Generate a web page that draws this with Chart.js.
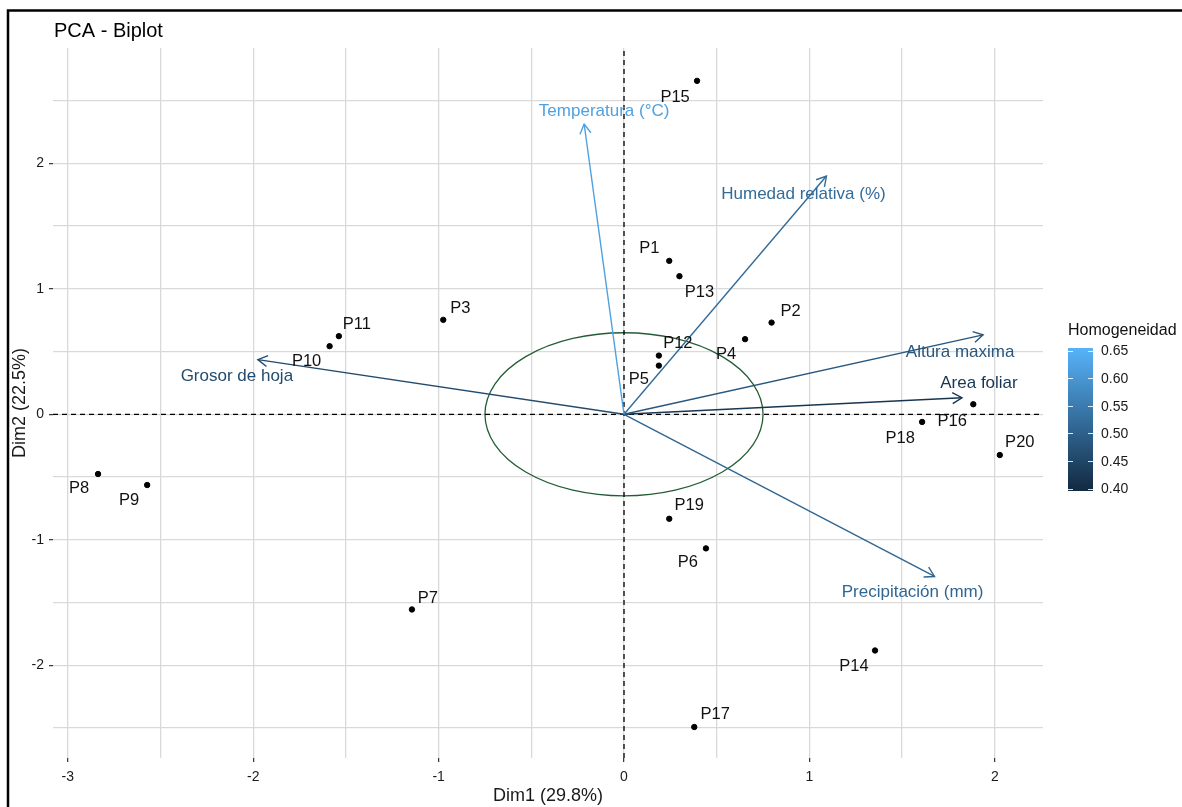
<!DOCTYPE html>
<html>
<head>
<meta charset="utf-8">
<script src="https://cdn.jsdelivr.net/npm/chart.js@4.4.1/dist/chart.umd.min.js"></script>
<style>
  html, body { margin: 0; padding: 0; background: #ffffff; }
  #wrap { width: 1182px; height: 807px; position: relative; }
</style>
</head>
<body>
<div id="wrap"><canvas id="biplot" width="1182" height="807"></canvas></div>
<script>
// ---- Individuals (scores on the first two dimensions) ----
const individuals = ['P1','P2','P3','P4','P5','P6','P7','P8','P9','P10',
                     'P11','P12','P13','P14','P15','P16','P17','P18','P19','P20'];
const dim1 = [0.244, 0.796, -0.975, 0.653, 0.188, 0.442, -1.144, -2.837, -2.572, -1.588,
              -1.538, 0.188, 0.299, 1.354, 0.394, 1.884, 0.379, 1.608, 0.244, 2.027];
const dim2 = [1.223, 0.731, 0.753, 0.599, 0.388, -1.069, -1.556, -0.476, -0.564, 0.543,
              0.623, 0.468, 1.101, -1.883, 2.658, 0.080, -2.493, -0.061, -0.833, -0.325];

// ---- Variables (loading arrows) ----
const variables = ['Temperatura (°C)', 'Humedad relativa (%)', 'Altura maxima',
                   'Area foliar', 'Grosor de hoja', 'Precipitación (mm)'];
const varDim1 = [-0.215, 1.092, 1.937, 1.823, -1.975, 1.675];
const varDim2 = [2.314, 1.899, 0.633, 0.132, 0.436, -1.293];
const homogeneidad = [0.62, 0.52, 0.48, 0.42, 0.46, 0.51];

// ---- Axes and colour legend ----
const xLimits = [-3.08, 2.26];
const yLimits = [-2.74, 2.92];
const legendTicks = [0.40, 0.45, 0.50, 0.55, 0.60, 0.65];
const circleRadius = [0.75, 0.65];

// ---- Label placement (pixel offsets from the mark) ----
const pointLabelOffset = {
  P1: [-20, -12], P2: [19, -11], P3: [17, -11], P4: [-19, 15], P5: [-20, 14],
  P6: [-18, 14], P7: [16, -11], P8: [-19, 14], P9: [-18, 15], P10: [-23, 15],
  P11: [18, -12], P12: [19, -12], P13: [20, 16], P14: [-21, 16], P15: [-22, 17],
  P16: [-21, 17], P17: [21, -13], P18: [-22, 17], P19: [20, -13], P20: [20, -13]
};
const arrowLabelOffset = [[20, -13], [-23, 18], [-23, 17], [17, -14], [-21, 17], [-22, 16]];

const FONT = '"Liberation Sans", Arial, sans-serif';
const lowColor = [19, 43, 67];
const highColor = [86, 177, 247];
function homColor(v) {
  const lo = legendTicks[0], hi = legendTicks[legendTicks.length - 1];
  const t = Math.max(0, Math.min(1, (v - lo) / (hi - lo)));
  const c = lowColor.map((l, i) => Math.round(l + (highColor[i] - l) * t));
  return 'rgb(' + c.join(',') + ')';
}
const isInt = v => typeof v === 'number' && Math.abs(v - Math.round(v)) < 1e-9;

// ---- Datasets ----
const datasets = [];
datasets.push({
  label: 'individuos',
  data: individuals.map((n, i) => ({ x: dim1[i], y: dim2[i] })),
  backgroundColor: '#000', borderColor: '#000', pointRadius: 2.7, pointHoverRadius: 2.7,
  showLine: false, order: 0
});
datasets.push({
  label: 'eje x0', data: [{ x: 0, y: yLimits[0] }, { x: 0, y: yLimits[1] }],
  showLine: true, borderColor: '#000', borderWidth: 1.3, borderDash: [5, 4], pointRadius: 0, order: 5
});
datasets.push({
  label: 'eje y0', data: [{ x: xLimits[0], y: 0 }, { x: xLimits[1], y: 0 }],
  showLine: true, borderColor: '#000', borderWidth: 1.3, borderDash: [5, 4], pointRadius: 0, order: 5
});
variables.forEach((v, i) => {
  datasets.push({
    label: v, data: [{ x: 0, y: 0 }, { x: varDim1[i], y: varDim2[i] }],
    showLine: true, borderColor: homColor(homogeneidad[i]), borderWidth: 1.4,
    pointRadius: 0, order: 2
  });
});

// ---- Plugins ----
const framePlugin = {
  id: 'frame',
  afterDraw(chart) {
    const ctx = chart.ctx;
    ctx.save();
    ctx.strokeStyle = '#000';
    ctx.lineWidth = 2.5;
    ctx.beginPath();
    ctx.moveTo(8, chart.height);
    ctx.lineTo(8, 10.5);
    ctx.lineTo(chart.width, 10.5);
    ctx.stroke();
    ctx.fillStyle = '#000';
    ctx.font = '20px ' + FONT;
    ctx.textAlign = 'left';
    ctx.textBaseline = 'alphabetic';
    ctx.fillText('PCA - Biplot', chart.chartArea.left + 1, 36.5);
    ctx.restore();
  }
};

const circlePlugin = {
  id: 'circle',
  beforeDatasetsDraw(chart) {
    const { x, y } = chart.scales;
    const ctx = chart.ctx;
    const cx = x.getPixelForValue(0), cy = y.getPixelForValue(0);
    const rx = Math.abs(x.getPixelForValue(circleRadius[0]) - cx);
    const ry = Math.abs(y.getPixelForValue(circleRadius[1]) - cy);
    ctx.save();
    ctx.strokeStyle = '#245d35';
    ctx.lineWidth = 1.3;
    ctx.beginPath();
    ctx.ellipse(cx, cy, rx, ry, 0, 0, Math.PI * 2);
    ctx.stroke();
    ctx.restore();
  }
};

const labelPlugin = {
  id: 'labels',
  afterDatasetsDraw(chart) {
    const { x, y } = chart.scales;
    const ctx = chart.ctx;
    ctx.save();
    // arrow heads and variable names
    variables.forEach((v, i) => {
      const col = homColor(homogeneidad[i]);
      const x0 = x.getPixelForValue(0), y0 = y.getPixelForValue(0);
      const x1 = x.getPixelForValue(varDim1[i]), y1 = y.getPixelForValue(varDim2[i]);
      const ang = Math.atan2(y1 - y0, x1 - x0);
      const len = 11, spread = Math.PI / 6;
      ctx.strokeStyle = col;
      ctx.lineWidth = 1.4;
      ctx.beginPath();
      ctx.moveTo(x1 - len * Math.cos(ang - spread), y1 - len * Math.sin(ang - spread));
      ctx.lineTo(x1, y1);
      ctx.lineTo(x1 - len * Math.cos(ang + spread), y1 - len * Math.sin(ang + spread));
      ctx.stroke();
      ctx.fillStyle = col;
      ctx.font = '17px ' + FONT;
      ctx.textAlign = 'center';
      ctx.textBaseline = 'middle';
      const off = arrowLabelOffset[i];
      ctx.fillText(v, x1 + off[0], y1 + off[1]);
    });
    // individual names
    ctx.fillStyle = '#111';
    ctx.font = '16.5px ' + FONT;
    ctx.textAlign = 'center';
    ctx.textBaseline = 'middle';
    individuals.forEach((n, i) => {
      const px = x.getPixelForValue(dim1[i]), py = y.getPixelForValue(dim2[i]);
      const off = pointLabelOffset[n];
      ctx.fillText(n, px + off[0], py + off[1]);
    });
    ctx.restore();
  }
};

const colorbarPlugin = {
  id: 'colorbar',
  afterDraw(chart) {
    const ctx = chart.ctx;
    const left = chart.chartArea.right + 25, width = 25;
    const vTop = 350.5, vBottom = 488.5;
    const lo = legendTicks[0], hi = legendTicks[legendTicks.length - 1];
    const pos = v => vBottom - (v - lo) / (hi - lo) * (vBottom - vTop);
    ctx.save();
    const g = ctx.createLinearGradient(0, vTop, 0, vBottom);
    g.addColorStop(0, homColor(hi));
    g.addColorStop(1, homColor(lo));
    ctx.fillStyle = g;
    ctx.fillRect(left, vTop - 2.5, width, vBottom - vTop + 5);
    ctx.strokeStyle = 'rgba(255,255,255,0.85)';
    ctx.lineWidth = 1;
    ctx.fillStyle = '#1a1a1a';
    ctx.font = '14px ' + FONT;
    ctx.textAlign = 'left';
    ctx.textBaseline = 'middle';
    legendTicks.forEach(t => {
      const py = Math.round(pos(t)) + 0.5;
      ctx.beginPath();
      ctx.moveTo(left, py); ctx.lineTo(left + 5, py);
      ctx.moveTo(left + width - 5, py); ctx.lineTo(left + width, py);
      ctx.stroke();
      ctx.fillText(t.toFixed(2), left + width + 8, pos(t) + 1);
    });
    ctx.fillStyle = '#111';
    ctx.font = '16px ' + FONT;
    ctx.fillText('Homogeneidad', left, 331);
    ctx.restore();
  }
};

const tickColor = c => (c.tick && isInt(c.tick.value)) ? '#333' : 'rgba(0,0,0,0)';

new Chart(document.getElementById('biplot'), {
  type: 'scatter',
  data: { datasets },
  options: {
    responsive: false,
    animation: false,
    devicePixelRatio: 1,
    layout: { padding: { left: 0, right: 139, top: 48, bottom: 0 } },
    plugins: { legend: { display: false }, tooltip: { enabled: false }, title: { display: false } },
    scales: {
      x: {
        type: 'linear', min: xLimits[0], max: xLimits[1],
        afterFit(s) { s.height = 49; },
        border: { display: false },
        grid: { color: '#d9d9d9', lineWidth: 1.3, tickLength: 4, tickColor: tickColor, tickWidth: 1.2 },
        ticks: {
          stepSize: 0.5, includeBounds: false, autoSkip: false, maxRotation: 0, padding: 7,
          color: '#1a1a1a', font: { family: FONT, size: 14 },
          callback: v => isInt(v) ? String(Math.round(v)) : ''
        },
        title: { display: true, text: 'Dim1 (29.8%)', color: '#1a1a1a',
                 font: { family: FONT, size: 18 }, padding: { top: 0, bottom: 0 } }
      },
      y: {
        type: 'linear', min: yLimits[0], max: yLimits[1],
        afterFit(s) { s.width = 53; },
        border: { display: false },
        grid: { color: '#d9d9d9', lineWidth: 1.3, tickLength: 4, tickColor: tickColor, tickWidth: 1.2 },
        ticks: {
          stepSize: 0.5, includeBounds: false, autoSkip: false, padding: 5,
          color: '#1a1a1a', font: { family: FONT, size: 14 },
          callback: v => isInt(v) ? String(Math.round(v)) : ''
        },
        title: { display: true, text: 'Dim2 (22.5%)', color: '#1a1a1a',
                 font: { family: FONT, size: 18 }, padding: { top: 9, bottom: 0 } }
      }
    }
  },
  plugins: [circlePlugin, labelPlugin, colorbarPlugin, framePlugin]
});
</script>
</body>
</html>
